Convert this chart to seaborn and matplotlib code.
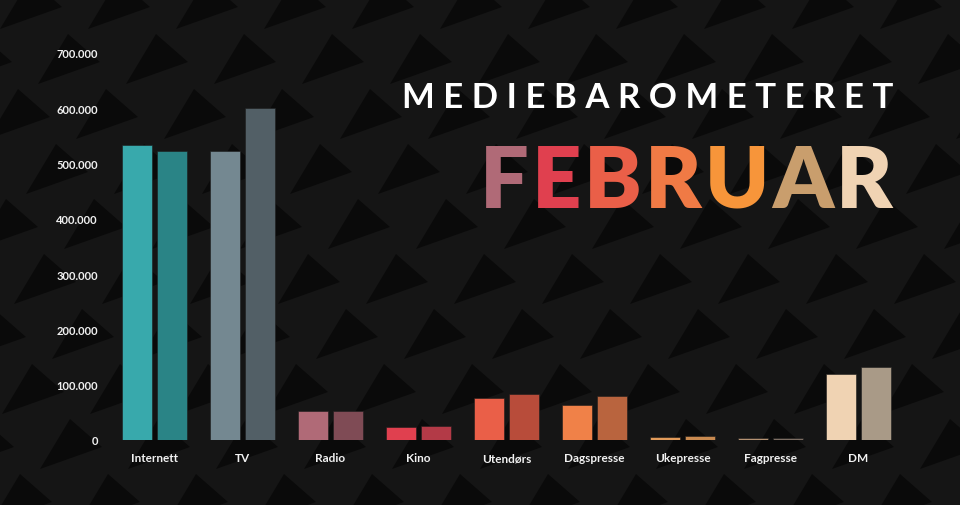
"""
Mediebarometeret februar - visninger per medietype, to perioder side om side.
"""

import numpy as np
import pandas as pd
import seaborn as sns
import matplotlib.pyplot as plt
from matplotlib.patches import Polygon
from matplotlib.ticker import FuncFormatter

# ---------------------------------------------------------------------------
# DATA
# ---------------------------------------------------------------------------
kategorier = ["Internett", "TV", "Radio", "Kino", "Utendørs",
              "Dagspresse", "Ukepresse", "Fagpresse", "DM"]
periode_navn = ["Februar i fjor", "Februar i år"]
verdier_fjor = [533000, 522000, 52000, 23000, 76000, 63000, 6000, 4000, 119000]
verdier_aar = [522000, 600000, 53000, 25000, 83000, 80000, 7000, 3500, 132000]

farger_fjor = ["#38a9ac", "#748891", "#b06a77", "#e0404f", "#ea5f48",
               "#f08148", "#e39b5a", "#b59273", "#f0d3b3"]
farger_aar = ["#2a8486", "#525f66", "#7f4b55", "#b33a47", "#b84c3a",
              "#b9643e", "#c98a50", "#7d6e63", "#a99a87"]

y_ticks = [0, 100000, 200000, 300000, 400000, 500000, 600000, 700000]

tittel = "MEDIEBAROMETERET"
maaned = "FEBRUAR"
maaned_farger = ["#b06a77", "#e0404f", "#ea5f48", "#f07a45", "#f7953a",
                 "#c99e6d", "#f0d3b3"]

BG = "#151515"
TEKST = "#f2f2f2"

df = pd.DataFrame({
    "kategori": kategorier * 2,
    "visninger": verdier_fjor + verdier_aar,
    "periode": [periode_navn[0]] * len(kategorier) + [periode_navn[1]] * len(kategorier),
})

# ---------------------------------------------------------------------------
# FIGUR
# ---------------------------------------------------------------------------
sns.set_style("dark")
plt.rcParams["font.family"] = ["Lato", "DejaVu Sans"]

W, H = 960, 506
fig = plt.figure(figsize=(W / 100, H / 100), dpi=100, facecolor=BG)

# bakgrunnsmønster: mørke pilspisser på skrå (bak grafen)
for j in range(-1, 11):
    for i in range(-2, 13):
        ox = i * 88 - (j % 2) * 44 - j * 6
        oy = j * 55 - 20
        pts = [(ox, oy + 50), (ox + 30, oy), (ox + 62, oy + 28)]
        pts = [(px / W, 1 - py / H) for px, py in pts]
        fig.patches.append(Polygon(pts, closed=True, transform=fig.transFigure,
                                   facecolor="#0a0a0a", edgecolor="none", zorder=-10))

ax = fig.add_axes([110.5 / W, (H - 441) / H, 792 / W, 387 / H])
ax.set_facecolor("none")
ax.set_zorder(5)

sns.barplot(data=df, x="kategori", y="visninger", hue="periode",
            order=kategorier, hue_order=periode_navn,
            width=0.8, gap=0.14, ax=ax, legend=False,
            edgecolor="#1c1c1c", linewidth=0.4, saturation=1)

for container, farger in zip(ax.containers, [farger_fjor, farger_aar]):
    for bar, c in zip(container, farger):
        bar.set_facecolor(c)

ax.set_xlim(-0.5, len(kategorier) - 0.5)
ax.set_ylim(0, 700000)
ax.set_yticks(y_ticks)
ax.yaxis.set_major_formatter(FuncFormatter(lambda v, _: f"{int(v):,}".replace(",", ".")))
ax.set_xlabel("")
ax.set_ylabel("")
ax.grid(False)
for s in ax.spines.values():
    s.set_visible(False)
ax.tick_params(axis="y", length=0, pad=9, labelsize=8, labelcolor=TEKST)
ax.tick_params(axis="x", length=0, pad=9, labelsize=8.5, labelcolor=TEKST)
for lbl in ax.get_xticklabels() + ax.get_yticklabels():
    lbl.set_fontweight("bold")

# ---------------------------------------------------------------------------
# TITTEL
# ---------------------------------------------------------------------------
fig.text(893 / W, 1 - 108 / H, " ".join(tittel), color="white",
         fontsize=25, fontweight="bold", ha="right", va="baseline", zorder=6)

renderer = fig.canvas.get_renderer()
x = 480
for bokstav, farge in zip(maaned, maaned_farger):
    t = fig.text(x / W, 1 - 208 / H, bokstav, color=farge, fontsize=62,
                 fontweight="heavy", ha="left", va="baseline", zorder=6)
    x += t.get_window_extent(renderer).width + 3

plt.savefig("out.png", dpi=100, facecolor=BG)
plt.close()
